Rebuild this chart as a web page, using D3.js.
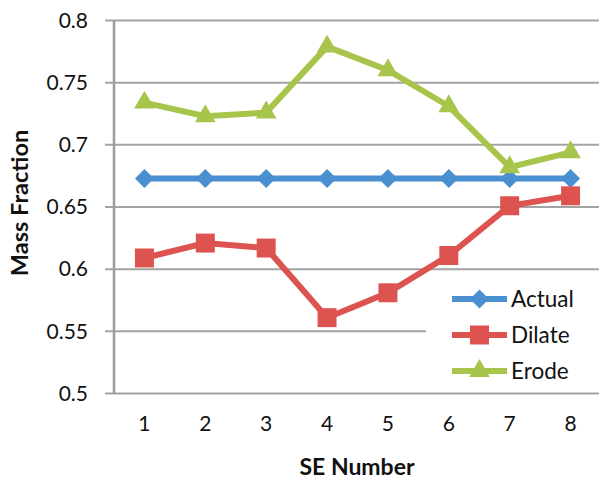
<!DOCTYPE html>
<html>
<head>
<meta charset="utf-8">
<script src="https://cdn.jsdelivr.net/npm/d3@7"></script>
<style>
  body { margin: 0; background: #fff; }
  svg { display: block; font-family: Lato, 'Open Sans', sans-serif; }
</style>
</head>
<body>
<svg width="599" height="483"></svg>
<script>
const seNumbers = [1, 2, 3, 4, 5, 6, 7, 8];
const actual = [0.673, 0.673, 0.673, 0.673, 0.673, 0.673, 0.673, 0.673];
const dilate = [0.609, 0.621, 0.617, 0.561, 0.581, 0.611, 0.651, 0.659];
const erode = [0.734, 0.723, 0.726, 0.779, 0.760, 0.731, 0.682, 0.694];
const yTicks = [0.5, 0.55, 0.6, 0.65, 0.7, 0.75, 0.8];
const seriesNames = ['Actual', 'Dilate', 'Erode'];

const colors = { Actual: '#4a8fcf', Dilate: '#dc5350', Erode: '#a8c54b' };
const margin = { top: 20.5, left: 114 };
const plotW = 487;
const plotH = 373;

const svg = d3.select('svg');
const g = svg.append('g').attr('transform', `translate(${margin.left},${margin.top})`);

const x = d3.scaleBand().domain(seNumbers).range([0, plotW]);
const y = d3.scaleLinear().domain([0.5, 0.8]).range([plotH, 0]);
const cx = d => x(d) + x.bandwidth() / 2;

// gridlines
g.append('g')
  .selectAll('line')
  .data(yTicks)
  .enter()
  .append('line')
  .attr('x1', -9)
  .attr('x2', plotW)
  .attr('y1', d => y(d))
  .attr('y2', d => y(d))
  .attr('stroke', '#a3a3a3')
  .attr('stroke-width', 2);

// y axis
const yAxis = g.append('g')
  .call(d3.axisLeft(y).tickValues(yTicks).tickSize(0).tickPadding(26).tickFormat(d => String(d)));
yAxis.select('.domain').remove();
yAxis.selectAll('text').attr('font-size', 21).attr('fill', '#111').attr('font-family', 'Lato, sans-serif');

g.append('line')
  .attr('x1', 0).attr('x2', 0)
  .attr('y1', 0).attr('y2', plotH)
  .attr('stroke', '#9c9c9c')
  .attr('stroke-width', 2.5);

// x axis
const xAxis = g.append('g')
  .attr('transform', `translate(0,${plotH})`)
  .call(d3.axisBottom(x).tickSize(0).tickPadding(23));
xAxis.select('.domain').remove();
xAxis.selectAll('text').attr('font-size', 21).attr('fill', '#111').attr('font-family', 'Lato, sans-serif');

const series = [
  { name: 'Actual', values: actual },
  { name: 'Dilate', values: dilate },
  { name: 'Erode', values: erode }
];

const symbolPath = {
  Actual: d3.symbol(d3.symbolSquare, 180)(),
  Dilate: d3.symbol(d3.symbolSquare, 360)(),
  Erode: d3.symbol(d3.symbolTriangle, 185)()
};
const symbolRotate = { Actual: 45, Dilate: 0, Erode: 0 };

const line = d3.line().x((d, i) => cx(seNumbers[i])).y(d => y(d));

const sg = g.selectAll('.series')
  .data(series)
  .enter()
  .append('g')
  .attr('class', 'series');

sg.append('path')
  .attr('d', d => line(d.values))
  .attr('fill', 'none')
  .attr('stroke', d => colors[d.name])
  .attr('stroke-width', 6);

sg.each(function (s) {
  d3.select(this)
    .selectAll('path.mark')
    .data(s.values)
    .enter()
    .append('path')
    .attr('class', 'mark')
    .attr('d', symbolPath[s.name])
    .attr('fill', colors[s.name])
    .attr('transform', (d, i) => `translate(${cx(seNumbers[i])},${y(d)}) rotate(${symbolRotate[s.name]})`);
});

// legend
const legend = svg.append('g').attr('transform', 'translate(426,279)');
legend.append('rect')
  .attr('width', 200)
  .attr('height', 110)
  .attr('fill', '#fff');

const li = legend.selectAll('g.item')
  .data(seriesNames)
  .enter()
  .append('g')
  .attr('class', 'item')
  .attr('transform', (d, i) => `translate(26,${20 + i * 36})`);

li.append('line')
  .attr('x1', 0).attr('x2', 55)
  .attr('stroke', d => colors[d])
  .attr('stroke-width', 6);

li.append('path')
  .attr('d', d => symbolPath[d])
  .attr('fill', d => colors[d])
  .attr('transform', d => `translate(27.5,0) rotate(${symbolRotate[d]})`);

li.append('text')
  .attr('x', 59)
  .attr('dy', '0.36em')
  .attr('font-size', 22.5)
  .attr('fill', '#111')
  .text(d => d);

// axis titles
svg.append('text')
  .attr('x', 357)
  .attr('y', 467)
  .attr('dy', '0.36em')
  .attr('text-anchor', 'middle')
  .attr('font-weight', 'bold')
  .attr('font-size', 23)
  .attr('fill', '#111')
  .text('SE Number');

svg.append('text')
  .attr('transform', 'translate(20,203) rotate(-90)')
  .attr('dy', '0.36em')
  .attr('text-anchor', 'middle')
  .attr('font-weight', 'bold')
  .attr('font-size', 23.5)
  .attr('fill', '#111')
  .text('Mass Fraction');
</script>
</body>
</html>
